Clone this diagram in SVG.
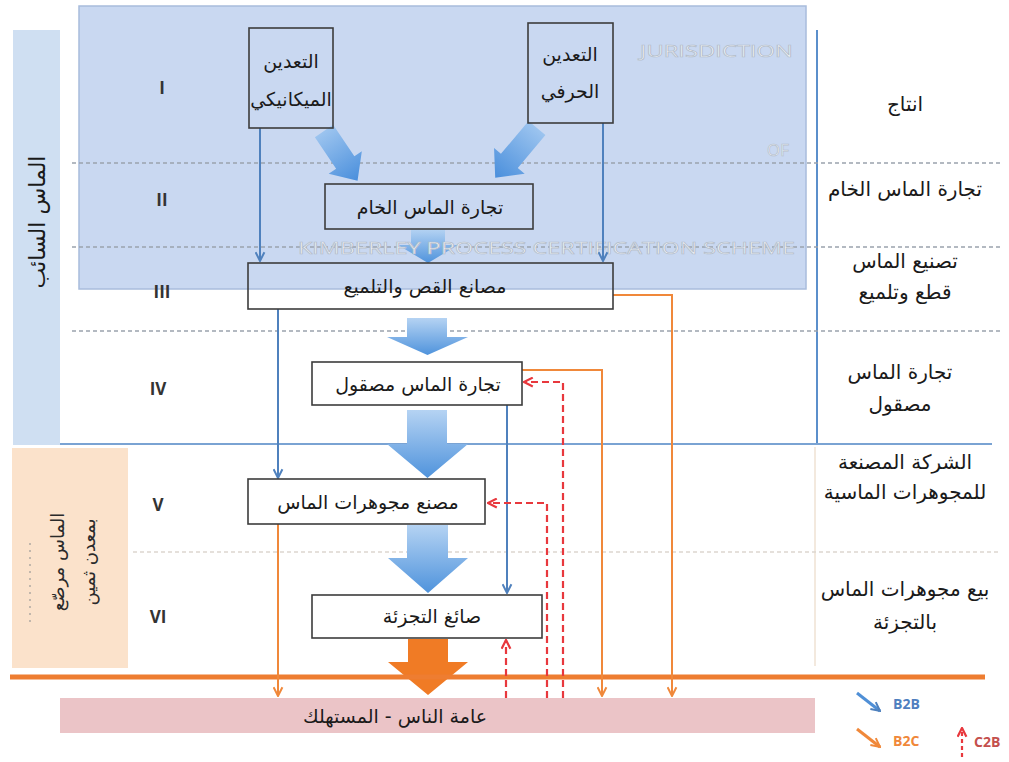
<svg xmlns="http://www.w3.org/2000/svg" width="1009" height="762" viewBox="0 0 1009 762">
<defs>
<style>
.ar{font-family:"DejaVu Sans",sans-serif;font-size:19px;fill:#1a1a1a;text-anchor:middle;direction:rtl}
.lbl{font-family:"DejaVu Sans",sans-serif;font-size:20px;fill:#1a1a1a;text-anchor:middle;direction:rtl}
.side{font-family:"DejaVu Sans",sans-serif;font-size:18px;fill:#2a2a2a;text-anchor:middle;direction:rtl}
.rn{font-family:"Open Sans","Liberation Sans",sans-serif;font-size:17px;font-weight:bold;fill:#333;text-anchor:middle}
.box{fill:none;stroke:#3c3c3c;stroke-width:1.6}
.dash{stroke:#9aa3ad;stroke-width:1.5;stroke-dasharray:4 3;fill:none}
.b2b{stroke:#4f81bd;stroke-width:2;fill:none}
.b2c{stroke:#f0883a;stroke-width:2;fill:none}
.c2b{stroke:#e8383d;stroke-width:2.2;fill:none;stroke-dasharray:7 4}
.ghost{font-family:"Open Sans","Liberation Sans",sans-serif;font-size:17px;fill:#f4f6fa;stroke:#b3bdca;stroke-width:0.7}
.leg{font-family:"Open Sans","Liberation Sans",sans-serif;font-size:14px;font-weight:bold}
</style>
<linearGradient id="gB" x1="0" y1="0" x2="0" y2="1">
<stop offset="0" stop-color="#b5d3f3"/>
<stop offset="1" stop-color="#4f93dc"/>
</linearGradient>
<linearGradient id="gD" x1="0" y1="0" x2="1" y2="0">
<stop offset="0" stop-color="#9cc4ef"/>
<stop offset="1" stop-color="#4a8fdc"/>
</linearGradient>
<marker id="mB" viewBox="0 0 10 10" refX="9" refY="5" markerWidth="11" markerHeight="11" markerUnits="userSpaceOnUse" orient="auto">
<path d="M1,1 L9,5 L1,9" fill="none" stroke="#4f81bd" stroke-width="1.8"/>
</marker>
<marker id="mO" viewBox="0 0 10 10" refX="9" refY="5" markerWidth="11" markerHeight="11" markerUnits="userSpaceOnUse" orient="auto">
<path d="M1,1 L9,5 L1,9" fill="none" stroke="#f0883a" stroke-width="1.8"/>
</marker>
<marker id="mR" viewBox="0 0 10 10" refX="9" refY="5" markerWidth="11" markerHeight="11" markerUnits="userSpaceOnUse" orient="auto">
<path d="M1,1 L9,5 L1,9" fill="none" stroke="#e8383d" stroke-width="2"/>
</marker>
</defs>

<rect width="1009" height="762" fill="#ffffff"/>

<!-- side panels -->
<g id="side-loose">
<rect x="13" y="30" width="47" height="415" fill="#cfdff2"/>
<text class="lbl" style="font-size:22px" transform="translate(45,222) rotate(-90)">الماس السائب</text>
</g>
<g id="side-set">
<rect x="12" y="448" width="116" height="220" fill="#fbe2cb"/>
<line x1="30" y1="543" x2="30" y2="627" stroke="#b0a9a2" stroke-width="1.5" stroke-dasharray="2 5"/>
<text class="side" transform="translate(64,562) rotate(-90)">الماس مرصّع</text>
<text class="side" transform="translate(95,562) rotate(-90)">بمعدن ثمين</text>
</g>

<!-- jurisdiction box -->
<g id="jurisdiction">
<rect x="79" y="6" width="727" height="283" fill="#c9d8f1" stroke="#a8bcdc" stroke-width="1.5"/>
<text class="ghost" x="640" y="57" textLength="153" lengthAdjust="spacingAndGlyphs">JURISDICTION</text>
<text class="ghost" x="767" y="156" textLength="22" lengthAdjust="spacingAndGlyphs">OF</text>
</g>

<!-- frame lines -->
<g id="frame">
<line x1="817" y1="30" x2="817" y2="445" stroke="#5b8fcb" stroke-width="2"/>
<line x1="60" y1="444" x2="992" y2="444" stroke="#7aa3d3" stroke-width="2"/>
<line x1="815" y1="447" x2="815" y2="666" stroke="#efe2d3" stroke-width="1.5"/>
<line class="dash" x1="72" y1="163" x2="1000" y2="163"/>
<line class="dash" x1="72" y1="247" x2="1000" y2="247"/>
<line class="dash" x1="72" y1="331" x2="1000" y2="331"/>
<line class="dash" x1="133" y1="552" x2="1000" y2="552" style="stroke:#ddd6cf"/>
</g>

<!-- roman numerals -->
<g id="stages">
<text class="rn" x="162" y="94">I</text>
<text class="rn" x="162" y="206">II</text>
<text class="rn" x="162" y="298">III</text>
<text class="rn" x="158" y="395">IV</text>
<text class="rn" x="158" y="511">V</text>
<text class="rn" x="158" y="623">VI</text>
</g>

<!-- right labels -->
<g id="right-labels">
<text class="lbl" x="905" y="111">انتاج</text>
<text class="lbl" x="905" y="196">تجارة الماس الخام</text>
<text class="lbl" x="905" y="268">تصنيع الماس</text>
<text class="lbl" x="905" y="299">قطع وتلميع</text>
<text class="lbl" x="900" y="379">تجارة الماس</text>
<text class="lbl" x="900" y="411">مصقول</text>
<text class="lbl" x="905" y="469">الشركة المصنعة</text>
<text class="lbl" x="905" y="499">للمجوهرات الماسية</text>
<text class="lbl" x="905" y="596">بيع مجوهرات الماس</text>
<text class="lbl" x="905" y="629">بالتجزئة</text>
</g>

<!-- consumer bar -->
<g id="consumer">
<rect x="60" y="698" width="755" height="35" fill="#ebc4c7"/>
<text class="ar" x="395" y="723">عامة الناس - المستهلك</text>
</g>

<!-- block arrows -->
<g id="flow-arrows">
<path d="M0,-11 L38,-11 L38,-20 L60,0 L38,20 L38,11 L0,11 Z" fill="url(#gD)" transform="translate(324,131) rotate(56)"/>
<path d="M0,-11 L43,-11 L43,-20 L65,0 L43,20 L43,11 L0,11 Z" fill="url(#gD)" transform="translate(537,128) rotate(130)"/>
<path d="M411,229 L445,229 L445,245 L458,245 L428,263 L398,245 L411,245 Z" fill="url(#gB)"/>
<path d="M407,318 L447,318 L447,337 L468,337 L427.5,355 L387,337 L407,337 Z" fill="url(#gB)"/>
<path d="M407,410 L447,410 L447,444 L468,444 L427.5,478 L387,444 L407,444 Z" fill="url(#gB)"/>
<path d="M407,525 L448,525 L448,558 L468,558 L428,593 L388,558 L407,558 Z" fill="url(#gB)"/>
<path d="M408,639 L448,639 L448,662 L468,662 L428,695 L388,662 L408,662 Z" fill="#f07b25"/>
</g>

<!-- thick orange line -->
<line x1="10" y1="677" x2="985" y2="677" stroke="#ee7d31" stroke-width="5"/>

<text class="ghost" x="298" y="254" textLength="497" lengthAdjust="spacingAndGlyphs">KIMBERLEY PROCESS CERTIFICATION SCHEME</text>

<!-- connectors -->
<g id="connectors">
<line class="b2b" x1="260" y1="128" x2="260" y2="261" marker-end="url(#mB)"/>
<line class="b2b" x1="603" y1="123" x2="603" y2="261" marker-end="url(#mB)"/>
<line class="b2b" x1="278" y1="309" x2="278" y2="478" marker-end="url(#mB)"/>
<line class="b2b" x1="507" y1="405" x2="507" y2="593" marker-end="url(#mB)"/>
<polyline class="b2c" points="613,295 672,295 672,696" marker-end="url(#mO)"/>
<polyline class="b2c" points="522,370 602,370 602,696" marker-end="url(#mO)"/>
<line class="b2c" x1="278" y1="524" x2="278" y2="696" marker-end="url(#mO)"/>
<polyline class="c2b" points="563,698 563,382 524,382" marker-end="url(#mR)"/>
<polyline class="c2b" points="547,698 547,503 488,503" marker-end="url(#mR)"/>
<line class="c2b" x1="506" y1="698" x2="506" y2="640" marker-end="url(#mR)"/>
</g>

<!-- nodes -->
<g id="n-mech">
<rect class="box" x="249" y="28" width="84" height="100"/>
<text class="ar" x="291" y="68">التعدين</text>
<text class="ar" x="291" y="106">الميكانيكي</text>
</g>
<g id="n-artisanal">
<rect class="box" x="528" y="23" width="85" height="100"/>
<text class="ar" x="570" y="61">التعدين</text>
<text class="ar" x="570" y="98">الحرفي</text>
</g>
<g id="n-rough">
<rect class="box" x="325" y="184" width="208" height="45"/>
<text class="ar" x="430" y="214">تجارة الماس الخام</text>
</g>
<g id="n-cutting">
<rect class="box" x="248" y="263" width="365" height="46"/>
<text class="ar" x="425" y="293">مصانع القص والتلميع</text>
</g>
<g id="n-polished">
<rect class="box" x="312" y="362" width="210" height="43"/>
<text class="ar" x="418" y="391">تجارة الماس مصقول</text>
</g>
<g id="n-jewelry">
<rect class="box" x="248" y="479" width="237" height="45"/>
<text class="ar" x="368" y="509">مصنع مجوهرات الماس</text>
</g>
<g id="n-retail">
<rect class="box" x="312" y="595" width="230" height="43"/>
<text class="ar" x="432" y="623">صائغ التجزئة</text>
</g>

<!-- legend -->
<g id="legend">
<line x1="857" y1="693" x2="880" y2="711" stroke="#4f8fd6" stroke-width="3" marker-end="url(#mB)"/>
<text class="leg" x="893" y="709" fill="#4f7fbf">B2B</text>
<line x1="857" y1="729" x2="880" y2="747" stroke="#f0883a" stroke-width="3" marker-end="url(#mO)"/>
<text class="leg" x="893" y="746" fill="#f0883a">B2C</text>
<line class="c2b" x1="962" y1="757" x2="962" y2="728" style="stroke-dasharray:4 3" marker-end="url(#mR)"/>
<text class="leg" x="974" y="747" fill="#c4504d">C2B</text>
</g>
</svg>
